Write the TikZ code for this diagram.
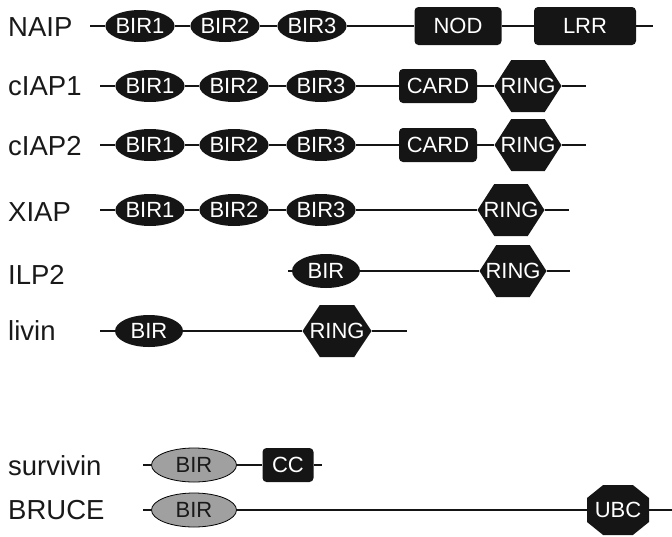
\documentclass[tikz,border=0pt]{standalone}
\usepackage{fontspec}
\setmainfont{Liberation Sans}
\usetikzlibrary{shapes.geometric,calc}
\definecolor{dom}{HTML}{151515}
\definecolor{greydom}{HTML}{A0A0A0}
\begin{document}
\begin{tikzpicture}[x=1pt,y=-1pt,
  lbl/.style={anchor=west,inner sep=0,font=\fontsize{27.5}{29}\selectfont,text=black!90},
  ln/.style={line width=2.8pt,draw=dom},
  bir/.style={ellipse,fill=dom,text=white,inner sep=0,minimum width=66pt,minimum height=32pt,font=\fontsize{22}{23}\selectfont},
  gbir/.style={ellipse,fill=greydom,draw=black,line width=0.8pt,text=black!90,inner sep=0,minimum width=85pt,minimum height=34pt,font=\fontsize{22}{23}\selectfont},
  dbox/.style={rectangle,rounded corners=4pt,fill=dom,text=white,inner sep=0,minimum height=38pt,font=\fontsize{22}{23}\selectfont},
  hexdom/.style={rectangle,inner sep=0,minimum width=67pt,minimum height=52pt,text=white,font=\fontsize{22}{23}\selectfont,
    path picture={\fill[dom] (path picture bounding box.west)
      -- ($(path picture bounding box.north west)!0.25!(path picture bounding box.north east)$)
      -- ($(path picture bounding box.north west)!0.75!(path picture bounding box.north east)$)
      -- (path picture bounding box.east)
      -- ($(path picture bounding box.south west)!0.75!(path picture bounding box.south east)$)
      -- ($(path picture bounding box.south west)!0.25!(path picture bounding box.south east)$)
      -- cycle;}},
  octdom/.style={rectangle,inner sep=0,minimum width=62pt,minimum height=50pt,text=white,font=\fontsize{22}{23}\selectfont,
    path picture={\fill[dom]
      ($(path picture bounding box.north west)!0.26!(path picture bounding box.north east)$)
      -- ($(path picture bounding box.north west)!0.74!(path picture bounding box.north east)$)
      -- ($(path picture bounding box.north east)!0.26!(path picture bounding box.south east)$)
      -- ($(path picture bounding box.north east)!0.74!(path picture bounding box.south east)$)
      -- ($(path picture bounding box.south west)!0.74!(path picture bounding box.south east)$)
      -- ($(path picture bounding box.south west)!0.26!(path picture bounding box.south east)$)
      -- ($(path picture bounding box.north west)!0.74!(path picture bounding box.south west)$)
      -- ($(path picture bounding box.north west)!0.26!(path picture bounding box.south west)$)
      -- cycle;}}]
\useasboundingbox (0,0) rectangle (672,536);

% NAIP
\node[lbl] (lNAIP) at (8,27) {NAIP};
\coordinate (s1) at (90,26);
\node[bir] (n1b1) at (140,26) {BIR1};
\node[bir] (n1b2) at (225,26) {BIR2};
\node[bir] (n1b3) at (312,26) {BIR3};
\node[dbox,minimum width=87pt] (n1nod) at (458,26) {NOD};
\node[dbox,minimum width=102pt] (n1lrr) at (585,26) {LRR};
\coordinate (e1) at (653,26);
\draw[ln] (s1) -- (n1b1) (n1b1) -- (n1b2) (n1b2) -- (n1b3) (n1b3) -- (n1nod) (n1nod) -- (n1lrr) (n1lrr) -- (e1);

% cIAP1
\node[lbl] (lc1) at (8,86) {cIAP1};
\coordinate (s2) at (100,86);
\node[bir] (n2b1) at (150,86) {BIR1};
\node[bir] (n2b2) at (234,86) {BIR2};
\node[bir] (n2b3) at (321,86) {BIR3};
\node[dbox,minimum width=78pt,minimum height=34pt] (n2card) at (438,86) {CARD};
\node[hexdom] (n2ring) at (528,86) {RING};
\coordinate (e2) at (586,86);
\draw[ln] (s2) -- (n2b1) (n2b1) -- (n2b2) (n2b2) -- (n2b3) (n2b3) -- (n2card) (n2card) -- (n2ring) (n2ring) -- (e2);

% cIAP2
\node[lbl] (lc2) at (8,146) {cIAP2};
\coordinate (s3) at (100,145);
\node[bir] (n3b1) at (150,145) {BIR1};
\node[bir] (n3b2) at (234,145) {BIR2};
\node[bir] (n3b3) at (321,145) {BIR3};
\node[dbox,minimum width=78pt,minimum height=34pt] (n3card) at (438,145) {CARD};
\node[hexdom] (n3ring) at (528,145) {RING};
\coordinate (e3) at (586,145);
\draw[ln] (s3) -- (n3b1) (n3b1) -- (n3b2) (n3b2) -- (n3b3) (n3b3) -- (n3card) (n3card) -- (n3ring) (n3ring) -- (e3);

% XIAP
\node[lbl] (lx) at (8,212) {XIAP};
\coordinate (s4) at (100,210);
\node[bir] (n4b1) at (150,210) {BIR1};
\node[bir] (n4b2) at (234,210) {BIR2};
\node[bir] (n4b3) at (321,210) {BIR3};
\node[hexdom] (n4ring) at (511,210) {RING};
\coordinate (e4) at (569,210);
\draw[ln] (s4) -- (n4b1) (n4b1) -- (n4b2) (n4b2) -- (n4b3) (n4b3) -- (n4ring) (n4ring) -- (e4);

% ILP2
\node[lbl] (li) at (8,275) {ILP2};
\coordinate (s5) at (288,271);
\node[bir,minimum width=68pt,minimum height=34pt] (n5b) at (326,271) {BIR};
\node[hexdom] (n5ring) at (513,271) {RING};
\coordinate (e5) at (570,271);
\draw[ln] (s5) -- (n5b) (n5b) -- (n5ring) (n5ring) -- (e5);

% livin
\node[lbl] (ll) at (8,331) {livin};
\coordinate (s6) at (100,331);
\node[bir,minimum width=68pt] (n6b) at (149,331) {BIR};
\node[hexdom,minimum width=69pt] (n6ring) at (337,331) {RING};
\coordinate (e6) at (407,331);
\draw[ln] (s6) -- (n6b) (n6b) -- (n6ring) (n6ring) -- (e6);

% survivin
\node[lbl] (ls) at (8,466) {survivin};
\coordinate (s7) at (143,465);
\node[gbir] (n7b) at (194,465) {BIR};
\node[dbox,minimum width=51pt,minimum height=34pt] (n7cc) at (288,465) {CC};
\coordinate (e7) at (322,465);
\draw[ln] (s7) -- (n7b) (n7b) -- (n7cc) (n7cc) -- (e7);

% BRUCE
\node[lbl] (lb) at (8,510) {BRUCE};
\coordinate (s8) at (143,510);
\node[gbir] (n8b) at (194,510) {BIR};
\node[octdom] (n8ubc) at (618,510) {UBC};
\coordinate (e8) at (672,510);
\draw[ln] (s8) -- (n8b) (n8b) -- (n8ubc) (n8ubc) -- (e8);
\end{tikzpicture}
\end{document}
